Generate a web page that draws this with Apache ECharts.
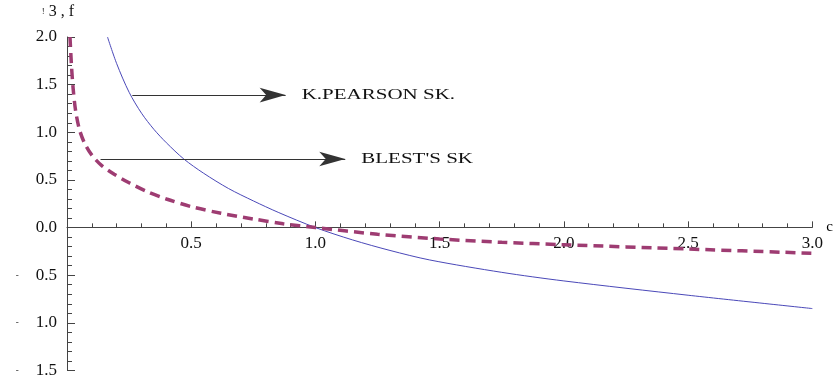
<!DOCTYPE html>
<html><head><meta charset="utf-8">
<script src="https://cdn.jsdelivr.net/npm/echarts@6/dist/echarts.min.js"></script>
<style>html,body{margin:0;padding:0;background:#fff}#c{width:836px;height:379px}</style>
</head><body><div id="c"></div>
<script>
// K. Pearson skewness curve (solid blue)
const pearsonX = [0.163, 0.20, 0.25, 0.30, 0.35, 0.40, 0.47, 0.55, 0.65, 0.75, 0.85, 1.00, 1.15, 1.30, 1.46, 1.75, 2.00, 2.50, 3.00];
const pearsonY = [2.00, 1.72, 1.42, 1.20, 1.03, 0.89, 0.72, 0.57, 0.41, 0.28, 0.16, 0.00, -0.13, -0.24, -0.34, -0.47, -0.56, -0.71, -0.85];
// Blest's skewness curve (dashed)
const blestX = [0.012, 0.018, 0.025, 0.035, 0.05, 0.07, 0.10, 0.14, 0.19, 0.25, 0.32, 0.40, 0.50, 0.62, 0.75, 0.87, 1.00, 1.25, 1.50, 1.75, 2.00, 2.50, 3.00];
const blestY = [2.00, 1.70, 1.45, 1.22, 1.03, 0.89, 0.76, 0.65, 0.56, 0.47, 0.38, 0.30, 0.22, 0.15, 0.09, 0.04, 0.00, -0.07, -0.12, -0.155, -0.18, -0.225, -0.27];
// annotation arrows: [x start, x end, y]
const pearsonArrow = [0.263, 0.88, 1.39];
const blestArrow = [0.135, 1.12, 0.72];
const pearsonLabel = 'K.PEARSON SK.';
const blestLabel = "BLEST'S SK";
const xTicks = [0.5, 1.0, 1.5, 2.0, 2.5, 3.0];
const yTicks = [-1.5, -1.0, -0.5, 0.0, 0.5, 1.0, 1.5, 2.0];

const serif = '"Liberation Serif", "DejaVu Serif", serif';
const zip = (xs, ys) => xs.map((x, i) => [x, ys[i]]);
const arrowData = a => [[{coord: [a[0], a[2]]}, {coord: [a[1], a[2]]}]];

const gridTop = 37, gridBottom = 8, H = 379;
const yMin = -1.5, yMax = 2.0;
const zeroOffset = (H - gridTop - gridBottom) * (0 - yMin) / (yMax - yMin);

const chart = echarts.init(document.getElementById('c'), null, {renderer: 'canvas'});
chart.setOption({
  animation: false,
  grid: {left: 67, right: 23, top: gridTop, bottom: gridBottom, containLabel: false},
  xAxis: {
    type: 'value', min: 0, max: 3, interval: 0.5, position: 'bottom', offset: -zeroOffset,
    name: 'c', nameLocation: 'end', nameGap: 14,
    nameTextStyle: {fontFamily: serif, fontSize: 15, color: '#000', verticalAlign: 'middle', padding: [0, 0, 4, 0]},
    axisLine: {show: true, onZero: false, lineStyle: {color: '#444', width: 1}},
    axisTick: {show: true, inside: true, length: 6, lineStyle: {color: '#444', width: 1}},
    minorTick: {show: true, splitNumber: 5, length: 4, lineStyle: {color: '#444', width: 1}},
    splitLine: {show: false},
    axisLabel: {
      show: true, margin: 8, fontFamily: serif, fontSize: 17, color: '#111',
      formatter: v => xTicks.some(t => Math.abs(t - v) < 1e-9) ? v.toFixed(1) : ''
    }
  },
  yAxis: {
    type: 'value', min: yMin, max: yMax, interval: 0.5,
    name: '{s|ǃ} 3 , f', nameLocation: 'end', nameGap: 17,
    nameTextStyle: {fontFamily: serif, fontSize: 16, color: '#111', align: 'center', padding: [0, 18, 0, 0],
      rich: {s: {fontSize: 9, fontFamily: serif, color: '#111'}}},
    axisLine: {show: true, onZero: false, lineStyle: {color: '#444', width: 1}},
    axisTick: {show: true, inside: true, length: 8, lineStyle: {color: '#444', width: 1}},
    minorTick: {show: true, splitNumber: 5, length: 5, lineStyle: {color: '#444', width: 1}},
    splitLine: {show: false},
    axisLabel: {
      show: true, margin: 10, fontFamily: serif, fontSize: 17, color: '#111',
      formatter: v => {
        if (!yTicks.some(t => Math.abs(t - v) < 1e-9)) return '';
        return v < 0 ? '{m|-}{n|' + Math.abs(v).toFixed(1) + '}' : '{n|' + v.toFixed(1) + '}';
      },
      rich: {
        m: {width: 20, align: 'left', fontSize: 9, fontFamily: serif, color: '#111'},
        n: {fontSize: 17, fontFamily: serif, color: '#111'}
      }
    }
  },
  series: [
    {
      type: 'line', data: zip(pearsonX, pearsonY), smooth: 0.3,
      showSymbol: false, clip: true,
      lineStyle: {color: '#4a48b8', width: 1},
      markLine: {
        silent: true, symbol: ['none', 'arrow'], symbolSize: [11, 26],
        lineStyle: {color: '#333', width: 1, type: 'solid'},
        label: {show: false},
        data: arrowData(pearsonArrow)
      }
    },
    {
      type: 'line', data: zip(blestX, blestY), smooth: 0.3,
      showSymbol: false, clip: true,
      lineStyle: {color: '#9e3c72', width: 3.5, type: [10, 6]},
      markLine: {
        silent: true, symbol: ['none', 'arrow'], symbolSize: [11, 26],
        lineStyle: {color: '#333', width: 1, type: 'solid'},
        label: {show: false},
        data: arrowData(blestArrow)
      }
    }
  ]
});

// annotation labels placed after the arrow tips, via the chart's own scales
function labelAt(a, text) {
  const p = chart.convertToPixel({seriesIndex: 0}, [a[1], a[2]]);
  return {
    type: 'text', x: p[0] + 16, y: p[1], scaleX: 1.4, scaleY: 1,
    style: {text: text, font: '15px ' + serif, fill: '#111', textVerticalAlign: 'middle', verticalAlign: 'middle', align: 'left'}
  };
}
chart.setOption({graphic: [labelAt(pearsonArrow, pearsonLabel), labelAt(blestArrow, blestLabel)]});
</script></body></html>
